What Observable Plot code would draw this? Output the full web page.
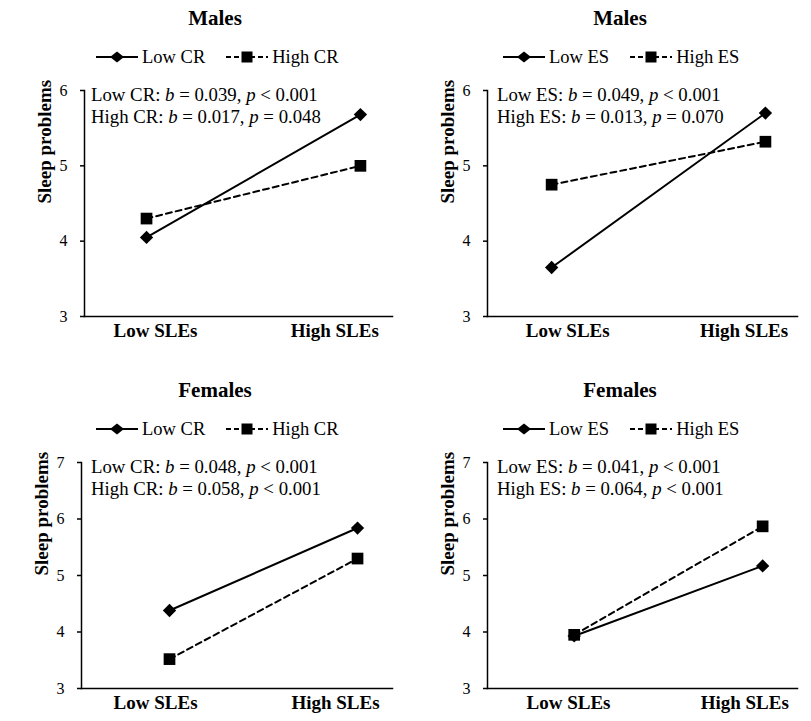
<!DOCTYPE html>
<html>
<head>
<meta charset="utf-8">
<script src="https://cdn.jsdelivr.net/npm/d3@7"></script>
<script src="https://cdn.jsdelivr.net/npm/@observablehq/plot@0.6"></script>
<style>
  body { margin: 0; background: #fff; }
  #root { position: relative; width: 811px; height: 721px; background: #fff; font-family: "Liberation Serif", "Times New Roman", serif; color: #000; }
  .panel { position: absolute; width: 405px; height: 350px; }
  .title { position: absolute; left: 0; width: 430px; top: 6px; text-align: center; font-weight: bold; font-size: 21px; line-height: 24px; }
  .legend { position: absolute; top: 47px; display: flex; align-items: center; font-size: 18.5px; line-height: 20px; }
  .legend .item { display: flex; align-items: center; margin-right: 21px; }
  .legend svg { margin-right: 4px; }
  .note { position: absolute; top: 84px; font-size: 18.8px; line-height: 22px; white-space: nowrap; }
  .plot { position: absolute; left: 0; top: 78px; }
</style>
</head>
<body>
<div id="root"></div>
<script>
// ---- data ----
const sleCategories = ["Low SLEs", "High SLEs"];
const panelTitles = ["Males", "Males", "Females", "Females"];
const moderatorLabels = [["Low CR", "High CR"], ["Low ES", "High ES"], ["Low CR", "High CR"], ["Low ES", "High ES"]];
const yTicksMales = [3, 4, 5, 6];
const yTicksFemales = [3, 4, 5, 6, 7];

const malesCRLow = [4.05, 5.68];
const malesCRHigh = [4.30, 5.00];
const malesESLow = [3.65, 5.70];
const malesESHigh = [4.75, 5.32];
const femalesCRLow = [4.38, 5.84];
const femalesCRHigh = [3.52, 5.30];
const femalesESLow = [3.93, 5.17];
const femalesESHigh = [3.95, 5.87];

const slopeB = [["0.039", "0.017"], ["0.049", "0.013"], ["0.048", "0.058"], ["0.041", "0.064"]];
const slopeP = [["< 0.001", "= 0.048"], ["< 0.001", "= 0.070"], ["< 0.001", "< 0.001"], ["< 0.001", "< 0.001"]];

// ---- layout options ----
const panels = [
  {left: 0, top: 0, low: malesCRLow, high: malesCRHigh, yTicks: yTicksMales, ml: 84, xDomain: [-0.29, 1.15], labelAt: [0.042, 0.88], legendLeft: 96, noteLeft: 91},
  {left: 405, top: 0, low: malesESLow, high: malesESHigh, yTicks: yTicksMales, ml: 82, xDomain: [-0.30, 1.15], labelAt: [0.075, 0.90], legendLeft: 98, noteLeft: 92},
  {left: 0, top: 372, low: femalesCRLow, high: femalesCRHigh, yTicks: yTicksFemales, ml: 81, xDomain: [-0.468, 1.186], labelAt: [-0.074, 0.883], legendLeft: 96, noteLeft: 91},
  {left: 405, top: 372, low: femalesESLow, high: femalesESHigh, yTicks: yTicksFemales, ml: 82, xDomain: [-0.46, 1.185], labelAt: [-0.03, 0.905], legendLeft: 98, noteLeft: 92}
];

const diamondSvg = `<svg width="42" height="14"><line x1="0" y1="7" x2="42" y2="7" stroke="#000" stroke-width="2"/><polygon points="21,1.5 28,7 21,12.5 14,7" fill="#000"/></svg>`;
const squareSvg = `<svg width="42" height="14"><line x1="0" y1="7" x2="42" y2="7" stroke="#000" stroke-width="2" stroke-dasharray="5,3"/><rect x="15.5" y="1.5" width="11" height="11" fill="#000"/></svg>`;

const root = document.getElementById("root");

panels.forEach((cfg, k) => {
  const div = document.createElement("div");
  div.className = "panel";
  div.style.left = cfg.left + "px";
  div.style.top = cfg.top + "px";

  const title = document.createElement("div");
  title.className = "title";
  title.textContent = panelTitles[k];
  div.appendChild(title);

  const legend = document.createElement("div");
  legend.className = "legend";
  legend.style.left = cfg.legendLeft + "px";
  legend.innerHTML = `<div class="item">${diamondSvg}<span>${moderatorLabels[k][0]}</span></div><div class="item">${squareSvg}<span>${moderatorLabels[k][1]}</span></div>`;
  div.appendChild(legend);

  const lowData = cfg.low.map((v, i) => ({x: i, y: v}));
  const highData = cfg.high.map((v, i) => ({x: i, y: v}));
  const yDomain = [d3.min(cfg.yTicks), d3.max(cfg.yTicks)];

  const chart = Plot.plot({
    width: 405,
    height: 270,
    marginLeft: cfg.ml,
    marginRight: 13,
    marginTop: 12,
    marginBottom: 32,
    style: {fontFamily: '"Liberation Serif", "Times New Roman", serif', fontSize: "16px", color: "#000", background: "transparent", overflow: "visible"},
    x: {domain: cfg.xDomain, axis: null},
    y: {domain: yDomain, axis: null},
    marks: [
      Plot.axisY({ticks: cfg.yTicks, tickSize: 4, tickPadding: 13, fontSize: 16, label: null, tickFormat: d3.format("d"), strokeWidth: 1.5}),
      Plot.axisX({ticks: cfg.labelAt, tickSize: 0, tickPadding: 7, fontSize: 19, fontWeight: "bold", label: null,
        tickFormat: d => d === cfg.labelAt[0] ? sleCategories[0] : sleCategories[1]}),
      Plot.text(["Sleep problems"], {frameAnchor: "left", rotate: -90, dx: -40, fontSize: 19, fontWeight: "bold", fill: "#000"}),
      Plot.frame({anchor: "left", stroke: "#000", strokeWidth: 1.5}),
      Plot.frame({anchor: "bottom", stroke: "#000", strokeWidth: 1.5}),
      Plot.line(lowData, {x: "x", y: "y", stroke: "#000", strokeWidth: 2}),
      Plot.line(highData, {x: "x", y: "y", stroke: "#000", strokeWidth: 2, strokeDasharray: "6,4"}),
      Plot.dot(lowData, {x: "x", y: "y", symbol: "diamond2", r: 6, fill: "#000", stroke: "none"}),
      Plot.dot(highData, {x: "x", y: "y", symbol: "square", r: 6.6, fill: "#000", stroke: "none"})
    ]
  });
  chart.classList.add("plot");
  div.appendChild(chart);

  const note = document.createElement("div");
  note.className = "note";
  note.style.left = cfg.noteLeft + "px";
  note.innerHTML = [0, 1].map(j => `${moderatorLabels[k][j]}: <i>b</i> = ${slopeB[k][j]}, <i>p</i> ${slopeP[k][j]}`).join("<br>");
  div.appendChild(note);

  root.appendChild(div);
});
</script>
</body>
</html>
